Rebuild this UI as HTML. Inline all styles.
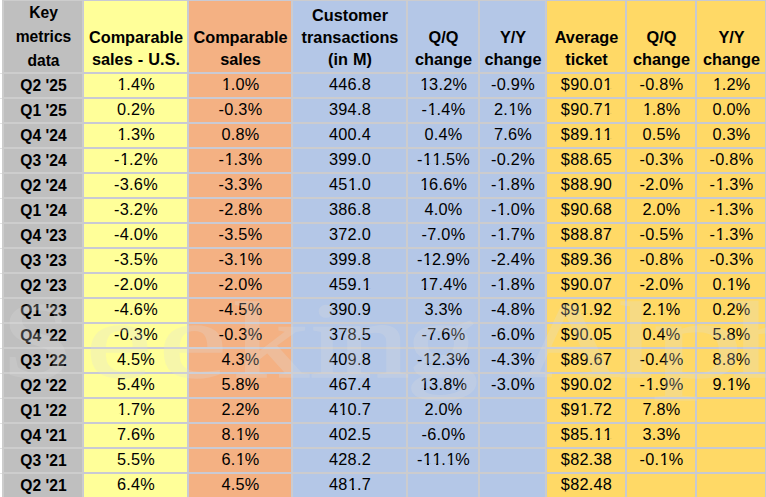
<!DOCTYPE html><html><head><meta charset="utf-8"><title>Key metrics</title><style>

html,body{margin:0;padding:0;}
body{width:766px;height:497px;overflow:hidden;position:relative;background:#CCCCCE;font-family:"Liberation Sans",sans-serif;color:#000;}
.c{position:absolute;overflow:hidden;}
.t{position:absolute;left:0;right:0;text-align:center;white-space:nowrap;height:20px;line-height:20px;}
.h .t{font-weight:bold;font-size:16.3px;word-spacing:0.6px;}
.k .t{font-weight:bold;font-size:16.5px;transform:scaleX(0.947);transform-origin:50% 50%;}
.d .t{font-size:16.3px;letter-spacing:0.25px;}
.o{display:inline-block;position:relative;left:0.5px;clip-path:polygon(0 0,100% 0,100% 14px,0.36em 14px,0.36em 100%,0.23em 100%,0.23em 14px,0 14px);}
#lw{position:absolute;left:0;top:0;width:2px;height:497px;background:#fff;}
#lw i{position:absolute;left:0;width:2px;height:1.4px;background:#E3E3E3;}
.gs{position:absolute;top:0;height:497px;}
#g0{position:absolute;left:2px;top:0;width:81px;height:497px;background:#CDCDCD;}
#wm{position:absolute;left:0;top:0;width:766px;height:497px;overflow:hidden;pointer-events:none;opacity:0.25;}
#wm span{position:absolute;font-family:"Liberation Serif",serif;color:rgb(222,222,222);-webkit-text-stroke:1.6px rgb(222,222,222);transform-origin:0 0;white-space:pre;}

</style></head><body>
<div id="g0"></div><div class="gs" style="left:83px;width:209px;background:#C9CAD4"></div><div class="gs" style="left:546px;width:220px;background:#C7C9D2"></div>
<div id="lw"><i style="top:72.6px"></i><i style="top:97.6px"></i><i style="top:122.6px"></i><i style="top:147.6px"></i><i style="top:172.6px"></i><i style="top:197.6px"></i><i style="top:222.6px"></i><i style="top:247.6px"></i><i style="top:272.6px"></i><i style="top:297.6px"></i><i style="top:322.6px"></i><i style="top:347.6px"></i><i style="top:372.6px"></i><i style="top:397.6px"></i><i style="top:422.6px"></i><i style="top:447.6px"></i><i style="top:472.6px"></i></div>
<div class="c k" style="left:4px;top:1px;width:78px;height:71px;background:#BFBFBF"><div class="t" style="top:1.03px;left:1.0px">Key</div><div class="t" style="top:24.88px;left:1.0px">metrics</div><div class="t" style="top:48.58px;left:1.0px">data</div></div>
<div class="c h" style="left:84px;top:1px;width:103px;height:71px;background:#FFFF99"><div class="t" style="top:26.05px;left:1.0px">Comparable</div><div class="t" style="top:47.65px;left:1.0px">sales - U.S.</div></div>
<div class="c h" style="left:189px;top:1px;width:102px;height:71px;background:#F4B183"><div class="t" style="top:26.05px;left:1.0px">Comparable</div><div class="t" style="top:47.65px;left:1.0px">sales</div></div>
<div class="c h" style="left:293px;top:1px;width:113px;height:71px;background:#B4C7E7"><div class="t" style="top:4.25px;left:1.0px">Customer</div><div class="t" style="top:26.05px;left:1.0px">transactions</div><div class="t" style="top:47.65px;left:1.0px">(in M)</div></div>
<div class="c h" style="left:408px;top:1px;width:70px;height:71px;background:#B4C7E7"><div class="t" style="top:26.05px;left:1.0px">Q/Q</div><div class="t" style="top:47.65px;left:1.0px">change</div></div>
<div class="c h" style="left:480px;top:1px;width:65px;height:71px;background:#B4C7E7"><div class="t" style="top:26.05px;left:1.0px">Y/Y</div><div class="t" style="top:47.65px;left:1.0px">change</div></div>
<div class="c h" style="left:547px;top:1px;width:78px;height:71px;background:#FFD966"><div class="t" style="top:26.05px;left:1.0px">Average</div><div class="t" style="top:47.65px;left:1.0px">ticket</div></div>
<div class="c h" style="left:627px;top:1px;width:68px;height:71px;background:#FFD966"><div class="t" style="top:26.05px;left:1.0px">Q/Q</div><div class="t" style="top:47.65px;left:1.0px">change</div></div>
<div class="c h" style="left:697px;top:1px;width:68px;height:71px;background:#FFD966"><div class="t" style="top:26.05px;left:1.0px">Y/Y</div><div class="t" style="top:47.65px;left:1.0px">change</div></div>
<div class="c k" style="left:4px;top:74px;width:78px;height:23px;background:#BFBFBF"><div class="t" style="top:1.18px;left:1.0px">Q2 '25</div></div>
<div class="c d" style="left:84px;top:74px;width:103px;height:23px;background:#FFFF99"><div class="t" style="top:0.25px;left:1.0px"><span class="o">1</span>.4%</div></div>
<div class="c d" style="left:189px;top:74px;width:102px;height:23px;background:#F4B183"><div class="t" style="top:0.25px;left:1.0px"><span class="o">1</span>.0%</div></div>
<div class="c d" style="left:293px;top:74px;width:113px;height:23px;background:#B4C7E7"><div class="t" style="top:0.25px;left:1.0px">446.8</div></div>
<div class="c d" style="left:408px;top:74px;width:70px;height:23px;background:#B4C7E7"><div class="t" style="top:0.25px;left:1.0px"><span class="o">1</span>3.2%</div></div>
<div class="c d" style="left:480px;top:74px;width:65px;height:23px;background:#B4C7E7"><div class="t" style="top:0.25px;left:1.0px">-0.9%</div></div>
<div class="c d" style="left:547px;top:74px;width:78px;height:23px;background:#FFD966"><div class="t" style="top:0.25px;left:1.0px">$90.0<span class="o">1</span></div></div>
<div class="c d" style="left:627px;top:74px;width:68px;height:23px;background:#FFD966"><div class="t" style="top:0.25px;left:1.0px">-0.8%</div></div>
<div class="c d" style="left:697px;top:74px;width:68px;height:23px;background:#FFD966"><div class="t" style="top:0.25px;left:1.0px"><span class="o">1</span>.2%</div></div>
<div class="c k" style="left:4px;top:99px;width:78px;height:23px;background:#BFBFBF"><div class="t" style="top:1.18px;left:1.0px">Q1 '25</div></div>
<div class="c d" style="left:84px;top:99px;width:103px;height:23px;background:#FFFF99"><div class="t" style="top:0.25px;left:1.0px">0.2%</div></div>
<div class="c d" style="left:189px;top:99px;width:102px;height:23px;background:#F4B183"><div class="t" style="top:0.25px;left:1.0px">-0.3%</div></div>
<div class="c d" style="left:293px;top:99px;width:113px;height:23px;background:#B4C7E7"><div class="t" style="top:0.25px;left:1.0px">394.8</div></div>
<div class="c d" style="left:408px;top:99px;width:70px;height:23px;background:#B4C7E7"><div class="t" style="top:0.25px;left:1.0px">-<span class="o">1</span>.4%</div></div>
<div class="c d" style="left:480px;top:99px;width:65px;height:23px;background:#B4C7E7"><div class="t" style="top:0.25px;left:1.0px">2.<span class="o">1</span>%</div></div>
<div class="c d" style="left:547px;top:99px;width:78px;height:23px;background:#FFD966"><div class="t" style="top:0.25px;left:1.0px">$90.7<span class="o">1</span></div></div>
<div class="c d" style="left:627px;top:99px;width:68px;height:23px;background:#FFD966"><div class="t" style="top:0.25px;left:1.0px"><span class="o">1</span>.8%</div></div>
<div class="c d" style="left:697px;top:99px;width:68px;height:23px;background:#FFD966"><div class="t" style="top:0.25px;left:1.0px">0.0%</div></div>
<div class="c k" style="left:4px;top:124px;width:78px;height:23px;background:#BFBFBF"><div class="t" style="top:1.18px;left:1.0px">Q4 '24</div></div>
<div class="c d" style="left:84px;top:124px;width:103px;height:23px;background:#FFFF99"><div class="t" style="top:0.25px;left:1.0px"><span class="o">1</span>.3%</div></div>
<div class="c d" style="left:189px;top:124px;width:102px;height:23px;background:#F4B183"><div class="t" style="top:0.25px;left:1.0px">0.8%</div></div>
<div class="c d" style="left:293px;top:124px;width:113px;height:23px;background:#B4C7E7"><div class="t" style="top:0.25px;left:1.0px">400.4</div></div>
<div class="c d" style="left:408px;top:124px;width:70px;height:23px;background:#B4C7E7"><div class="t" style="top:0.25px;left:1.0px">0.4%</div></div>
<div class="c d" style="left:480px;top:124px;width:65px;height:23px;background:#B4C7E7"><div class="t" style="top:0.25px;left:1.0px">7.6%</div></div>
<div class="c d" style="left:547px;top:124px;width:78px;height:23px;background:#FFD966"><div class="t" style="top:0.25px;left:1.0px">$89.<span class="o">1</span><span class="o">1</span></div></div>
<div class="c d" style="left:627px;top:124px;width:68px;height:23px;background:#FFD966"><div class="t" style="top:0.25px;left:1.0px">0.5%</div></div>
<div class="c d" style="left:697px;top:124px;width:68px;height:23px;background:#FFD966"><div class="t" style="top:0.25px;left:1.0px">0.3%</div></div>
<div class="c k" style="left:4px;top:149px;width:78px;height:23px;background:#BFBFBF"><div class="t" style="top:1.18px;left:1.0px">Q3 '24</div></div>
<div class="c d" style="left:84px;top:149px;width:103px;height:23px;background:#FFFF99"><div class="t" style="top:0.25px;left:1.0px">-<span class="o">1</span>.2%</div></div>
<div class="c d" style="left:189px;top:149px;width:102px;height:23px;background:#F4B183"><div class="t" style="top:0.25px;left:1.0px">-<span class="o">1</span>.3%</div></div>
<div class="c d" style="left:293px;top:149px;width:113px;height:23px;background:#B4C7E7"><div class="t" style="top:0.25px;left:1.0px">399.0</div></div>
<div class="c d" style="left:408px;top:149px;width:70px;height:23px;background:#B4C7E7"><div class="t" style="top:0.25px;left:1.0px">-<span class="o">1</span><span class="o">1</span>.5%</div></div>
<div class="c d" style="left:480px;top:149px;width:65px;height:23px;background:#B4C7E7"><div class="t" style="top:0.25px;left:1.0px">-0.2%</div></div>
<div class="c d" style="left:547px;top:149px;width:78px;height:23px;background:#FFD966"><div class="t" style="top:0.25px;left:1.0px">$88.65</div></div>
<div class="c d" style="left:627px;top:149px;width:68px;height:23px;background:#FFD966"><div class="t" style="top:0.25px;left:1.0px">-0.3%</div></div>
<div class="c d" style="left:697px;top:149px;width:68px;height:23px;background:#FFD966"><div class="t" style="top:0.25px;left:1.0px">-0.8%</div></div>
<div class="c k" style="left:4px;top:174px;width:78px;height:23px;background:#BFBFBF"><div class="t" style="top:1.18px;left:1.0px">Q2 '24</div></div>
<div class="c d" style="left:84px;top:174px;width:103px;height:23px;background:#FFFF99"><div class="t" style="top:0.25px;left:1.0px">-3.6%</div></div>
<div class="c d" style="left:189px;top:174px;width:102px;height:23px;background:#F4B183"><div class="t" style="top:0.25px;left:1.0px">-3.3%</div></div>
<div class="c d" style="left:293px;top:174px;width:113px;height:23px;background:#B4C7E7"><div class="t" style="top:0.25px;left:1.0px">45<span class="o">1</span>.0</div></div>
<div class="c d" style="left:408px;top:174px;width:70px;height:23px;background:#B4C7E7"><div class="t" style="top:0.25px;left:1.0px"><span class="o">1</span>6.6%</div></div>
<div class="c d" style="left:480px;top:174px;width:65px;height:23px;background:#B4C7E7"><div class="t" style="top:0.25px;left:1.0px">-<span class="o">1</span>.8%</div></div>
<div class="c d" style="left:547px;top:174px;width:78px;height:23px;background:#FFD966"><div class="t" style="top:0.25px;left:1.0px">$88.90</div></div>
<div class="c d" style="left:627px;top:174px;width:68px;height:23px;background:#FFD966"><div class="t" style="top:0.25px;left:1.0px">-2.0%</div></div>
<div class="c d" style="left:697px;top:174px;width:68px;height:23px;background:#FFD966"><div class="t" style="top:0.25px;left:1.0px">-<span class="o">1</span>.3%</div></div>
<div class="c k" style="left:4px;top:199px;width:78px;height:23px;background:#BFBFBF"><div class="t" style="top:1.18px;left:1.0px">Q1 '24</div></div>
<div class="c d" style="left:84px;top:199px;width:103px;height:23px;background:#FFFF99"><div class="t" style="top:0.25px;left:1.0px">-3.2%</div></div>
<div class="c d" style="left:189px;top:199px;width:102px;height:23px;background:#F4B183"><div class="t" style="top:0.25px;left:1.0px">-2.8%</div></div>
<div class="c d" style="left:293px;top:199px;width:113px;height:23px;background:#B4C7E7"><div class="t" style="top:0.25px;left:1.0px">386.8</div></div>
<div class="c d" style="left:408px;top:199px;width:70px;height:23px;background:#B4C7E7"><div class="t" style="top:0.25px;left:1.0px">4.0%</div></div>
<div class="c d" style="left:480px;top:199px;width:65px;height:23px;background:#B4C7E7"><div class="t" style="top:0.25px;left:1.0px">-<span class="o">1</span>.0%</div></div>
<div class="c d" style="left:547px;top:199px;width:78px;height:23px;background:#FFD966"><div class="t" style="top:0.25px;left:1.0px">$90.68</div></div>
<div class="c d" style="left:627px;top:199px;width:68px;height:23px;background:#FFD966"><div class="t" style="top:0.25px;left:1.0px">2.0%</div></div>
<div class="c d" style="left:697px;top:199px;width:68px;height:23px;background:#FFD966"><div class="t" style="top:0.25px;left:1.0px">-<span class="o">1</span>.3%</div></div>
<div class="c k" style="left:4px;top:224px;width:78px;height:23px;background:#BFBFBF"><div class="t" style="top:1.18px;left:1.0px">Q4 '23</div></div>
<div class="c d" style="left:84px;top:224px;width:103px;height:23px;background:#FFFF99"><div class="t" style="top:0.25px;left:1.0px">-4.0%</div></div>
<div class="c d" style="left:189px;top:224px;width:102px;height:23px;background:#F4B183"><div class="t" style="top:0.25px;left:1.0px">-3.5%</div></div>
<div class="c d" style="left:293px;top:224px;width:113px;height:23px;background:#B4C7E7"><div class="t" style="top:0.25px;left:1.0px">372.0</div></div>
<div class="c d" style="left:408px;top:224px;width:70px;height:23px;background:#B4C7E7"><div class="t" style="top:0.25px;left:1.0px">-7.0%</div></div>
<div class="c d" style="left:480px;top:224px;width:65px;height:23px;background:#B4C7E7"><div class="t" style="top:0.25px;left:1.0px">-<span class="o">1</span>.7%</div></div>
<div class="c d" style="left:547px;top:224px;width:78px;height:23px;background:#FFD966"><div class="t" style="top:0.25px;left:1.0px">$88.87</div></div>
<div class="c d" style="left:627px;top:224px;width:68px;height:23px;background:#FFD966"><div class="t" style="top:0.25px;left:1.0px">-0.5%</div></div>
<div class="c d" style="left:697px;top:224px;width:68px;height:23px;background:#FFD966"><div class="t" style="top:0.25px;left:1.0px">-<span class="o">1</span>.3%</div></div>
<div class="c k" style="left:4px;top:249px;width:78px;height:23px;background:#BFBFBF"><div class="t" style="top:1.18px;left:1.0px">Q3 '23</div></div>
<div class="c d" style="left:84px;top:249px;width:103px;height:23px;background:#FFFF99"><div class="t" style="top:0.25px;left:1.0px">-3.5%</div></div>
<div class="c d" style="left:189px;top:249px;width:102px;height:23px;background:#F4B183"><div class="t" style="top:0.25px;left:1.0px">-3.<span class="o">1</span>%</div></div>
<div class="c d" style="left:293px;top:249px;width:113px;height:23px;background:#B4C7E7"><div class="t" style="top:0.25px;left:1.0px">399.8</div></div>
<div class="c d" style="left:408px;top:249px;width:70px;height:23px;background:#B4C7E7"><div class="t" style="top:0.25px;left:1.0px">-<span class="o">1</span>2.9%</div></div>
<div class="c d" style="left:480px;top:249px;width:65px;height:23px;background:#B4C7E7"><div class="t" style="top:0.25px;left:1.0px">-2.4%</div></div>
<div class="c d" style="left:547px;top:249px;width:78px;height:23px;background:#FFD966"><div class="t" style="top:0.25px;left:1.0px">$89.36</div></div>
<div class="c d" style="left:627px;top:249px;width:68px;height:23px;background:#FFD966"><div class="t" style="top:0.25px;left:1.0px">-0.8%</div></div>
<div class="c d" style="left:697px;top:249px;width:68px;height:23px;background:#FFD966"><div class="t" style="top:0.25px;left:1.0px">-0.3%</div></div>
<div class="c k" style="left:4px;top:274px;width:78px;height:23px;background:#BFBFBF"><div class="t" style="top:1.18px;left:1.0px">Q2 '23</div></div>
<div class="c d" style="left:84px;top:274px;width:103px;height:23px;background:#FFFF99"><div class="t" style="top:0.25px;left:1.0px">-2.0%</div></div>
<div class="c d" style="left:189px;top:274px;width:102px;height:23px;background:#F4B183"><div class="t" style="top:0.25px;left:1.0px">-2.0%</div></div>
<div class="c d" style="left:293px;top:274px;width:113px;height:23px;background:#B4C7E7"><div class="t" style="top:0.25px;left:1.0px">459.<span class="o">1</span></div></div>
<div class="c d" style="left:408px;top:274px;width:70px;height:23px;background:#B4C7E7"><div class="t" style="top:0.25px;left:1.0px"><span class="o">1</span>7.4%</div></div>
<div class="c d" style="left:480px;top:274px;width:65px;height:23px;background:#B4C7E7"><div class="t" style="top:0.25px;left:1.0px">-<span class="o">1</span>.8%</div></div>
<div class="c d" style="left:547px;top:274px;width:78px;height:23px;background:#FFD966"><div class="t" style="top:0.25px;left:1.0px">$90.07</div></div>
<div class="c d" style="left:627px;top:274px;width:68px;height:23px;background:#FFD966"><div class="t" style="top:0.25px;left:1.0px">-2.0%</div></div>
<div class="c d" style="left:697px;top:274px;width:68px;height:23px;background:#FFD966"><div class="t" style="top:0.25px;left:1.0px">0.<span class="o">1</span>%</div></div>
<div class="c k" style="left:4px;top:299px;width:78px;height:23px;background:#BFBFBF"><div class="t" style="top:1.18px;left:1.0px">Q1 '23</div></div>
<div class="c d" style="left:84px;top:299px;width:103px;height:23px;background:#FFFF99"><div class="t" style="top:0.25px;left:1.0px">-4.6%</div></div>
<div class="c d" style="left:189px;top:299px;width:102px;height:23px;background:#F4B183"><div class="t" style="top:0.25px;left:1.0px">-4.5%</div></div>
<div class="c d" style="left:293px;top:299px;width:113px;height:23px;background:#B4C7E7"><div class="t" style="top:0.25px;left:1.0px">390.9</div></div>
<div class="c d" style="left:408px;top:299px;width:70px;height:23px;background:#B4C7E7"><div class="t" style="top:0.25px;left:1.0px">3.3%</div></div>
<div class="c d" style="left:480px;top:299px;width:65px;height:23px;background:#B4C7E7"><div class="t" style="top:0.25px;left:1.0px">-4.8%</div></div>
<div class="c d" style="left:547px;top:299px;width:78px;height:23px;background:#FFD966"><div class="t" style="top:0.25px;left:1.0px">$9<span class="o">1</span>.92</div></div>
<div class="c d" style="left:627px;top:299px;width:68px;height:23px;background:#FFD966"><div class="t" style="top:0.25px;left:1.0px">2.<span class="o">1</span>%</div></div>
<div class="c d" style="left:697px;top:299px;width:68px;height:23px;background:#FFD966"><div class="t" style="top:0.25px;left:1.0px">0.2%</div></div>
<div class="c k" style="left:4px;top:324px;width:78px;height:23px;background:#BFBFBF"><div class="t" style="top:1.18px;left:1.0px">Q4 '22</div></div>
<div class="c d" style="left:84px;top:324px;width:103px;height:23px;background:#FFFF99"><div class="t" style="top:0.25px;left:1.0px">-0.3%</div></div>
<div class="c d" style="left:189px;top:324px;width:102px;height:23px;background:#F4B183"><div class="t" style="top:0.25px;left:1.0px">-0.3%</div></div>
<div class="c d" style="left:293px;top:324px;width:113px;height:23px;background:#B4C7E7"><div class="t" style="top:0.25px;left:1.0px">378.5</div></div>
<div class="c d" style="left:408px;top:324px;width:70px;height:23px;background:#B4C7E7"><div class="t" style="top:0.25px;left:1.0px">-7.6%</div></div>
<div class="c d" style="left:480px;top:324px;width:65px;height:23px;background:#B4C7E7"><div class="t" style="top:0.25px;left:1.0px">-6.0%</div></div>
<div class="c d" style="left:547px;top:324px;width:78px;height:23px;background:#FFD966"><div class="t" style="top:0.25px;left:1.0px">$90.05</div></div>
<div class="c d" style="left:627px;top:324px;width:68px;height:23px;background:#FFD966"><div class="t" style="top:0.25px;left:1.0px">0.4%</div></div>
<div class="c d" style="left:697px;top:324px;width:68px;height:23px;background:#FFD966"><div class="t" style="top:0.25px;left:1.0px">5.8%</div></div>
<div class="c k" style="left:4px;top:349px;width:78px;height:23px;background:#BFBFBF"><div class="t" style="top:1.18px;left:1.0px">Q3 '22</div></div>
<div class="c d" style="left:84px;top:349px;width:103px;height:23px;background:#FFFF99"><div class="t" style="top:0.25px;left:1.0px">4.5%</div></div>
<div class="c d" style="left:189px;top:349px;width:102px;height:23px;background:#F4B183"><div class="t" style="top:0.25px;left:1.0px">4.3%</div></div>
<div class="c d" style="left:293px;top:349px;width:113px;height:23px;background:#B4C7E7"><div class="t" style="top:0.25px;left:1.0px">409.8</div></div>
<div class="c d" style="left:408px;top:349px;width:70px;height:23px;background:#B4C7E7"><div class="t" style="top:0.25px;left:1.0px">-<span class="o">1</span>2.3%</div></div>
<div class="c d" style="left:480px;top:349px;width:65px;height:23px;background:#B4C7E7"><div class="t" style="top:0.25px;left:1.0px">-4.3%</div></div>
<div class="c d" style="left:547px;top:349px;width:78px;height:23px;background:#FFD966"><div class="t" style="top:0.25px;left:1.0px">$89.67</div></div>
<div class="c d" style="left:627px;top:349px;width:68px;height:23px;background:#FFD966"><div class="t" style="top:0.25px;left:1.0px">-0.4%</div></div>
<div class="c d" style="left:697px;top:349px;width:68px;height:23px;background:#FFD966"><div class="t" style="top:0.25px;left:1.0px">8.8%</div></div>
<div class="c k" style="left:4px;top:374px;width:78px;height:23px;background:#BFBFBF"><div class="t" style="top:1.18px;left:1.0px">Q2 '22</div></div>
<div class="c d" style="left:84px;top:374px;width:103px;height:23px;background:#FFFF99"><div class="t" style="top:0.25px;left:1.0px">5.4%</div></div>
<div class="c d" style="left:189px;top:374px;width:102px;height:23px;background:#F4B183"><div class="t" style="top:0.25px;left:1.0px">5.8%</div></div>
<div class="c d" style="left:293px;top:374px;width:113px;height:23px;background:#B4C7E7"><div class="t" style="top:0.25px;left:1.0px">467.4</div></div>
<div class="c d" style="left:408px;top:374px;width:70px;height:23px;background:#B4C7E7"><div class="t" style="top:0.25px;left:1.0px"><span class="o">1</span>3.8%</div></div>
<div class="c d" style="left:480px;top:374px;width:65px;height:23px;background:#B4C7E7"><div class="t" style="top:0.25px;left:1.0px">-3.0%</div></div>
<div class="c d" style="left:547px;top:374px;width:78px;height:23px;background:#FFD966"><div class="t" style="top:0.25px;left:1.0px">$90.02</div></div>
<div class="c d" style="left:627px;top:374px;width:68px;height:23px;background:#FFD966"><div class="t" style="top:0.25px;left:1.0px">-<span class="o">1</span>.9%</div></div>
<div class="c d" style="left:697px;top:374px;width:68px;height:23px;background:#FFD966"><div class="t" style="top:0.25px;left:1.0px">9.<span class="o">1</span>%</div></div>
<div class="c k" style="left:4px;top:399px;width:78px;height:23px;background:#BFBFBF"><div class="t" style="top:1.18px;left:1.0px">Q1 '22</div></div>
<div class="c d" style="left:84px;top:399px;width:103px;height:23px;background:#FFFF99"><div class="t" style="top:0.25px;left:1.0px"><span class="o">1</span>.7%</div></div>
<div class="c d" style="left:189px;top:399px;width:102px;height:23px;background:#F4B183"><div class="t" style="top:0.25px;left:1.0px">2.2%</div></div>
<div class="c d" style="left:293px;top:399px;width:113px;height:23px;background:#B4C7E7"><div class="t" style="top:0.25px;left:1.0px">4<span class="o">1</span>0.7</div></div>
<div class="c d" style="left:408px;top:399px;width:70px;height:23px;background:#B4C7E7"><div class="t" style="top:0.25px;left:1.0px">2.0%</div></div>
<div class="c d" style="left:480px;top:399px;width:65px;height:23px;background:#B4C7E7"><div class="t" style="top:0.25px;left:1.0px"></div></div>
<div class="c d" style="left:547px;top:399px;width:78px;height:23px;background:#FFD966"><div class="t" style="top:0.25px;left:1.0px">$9<span class="o">1</span>.72</div></div>
<div class="c d" style="left:627px;top:399px;width:68px;height:23px;background:#FFD966"><div class="t" style="top:0.25px;left:1.0px">7.8%</div></div>
<div class="c d" style="left:697px;top:399px;width:68px;height:23px;background:#FFD966"><div class="t" style="top:0.25px;left:1.0px"></div></div>
<div class="c k" style="left:4px;top:424px;width:78px;height:23px;background:#BFBFBF"><div class="t" style="top:1.18px;left:1.0px">Q4 '21</div></div>
<div class="c d" style="left:84px;top:424px;width:103px;height:23px;background:#FFFF99"><div class="t" style="top:0.25px;left:1.0px">7.6%</div></div>
<div class="c d" style="left:189px;top:424px;width:102px;height:23px;background:#F4B183"><div class="t" style="top:0.25px;left:1.0px">8.<span class="o">1</span>%</div></div>
<div class="c d" style="left:293px;top:424px;width:113px;height:23px;background:#B4C7E7"><div class="t" style="top:0.25px;left:1.0px">402.5</div></div>
<div class="c d" style="left:408px;top:424px;width:70px;height:23px;background:#B4C7E7"><div class="t" style="top:0.25px;left:1.0px">-6.0%</div></div>
<div class="c d" style="left:480px;top:424px;width:65px;height:23px;background:#B4C7E7"><div class="t" style="top:0.25px;left:1.0px"></div></div>
<div class="c d" style="left:547px;top:424px;width:78px;height:23px;background:#FFD966"><div class="t" style="top:0.25px;left:1.0px">$85.<span class="o">1</span><span class="o">1</span></div></div>
<div class="c d" style="left:627px;top:424px;width:68px;height:23px;background:#FFD966"><div class="t" style="top:0.25px;left:1.0px">3.3%</div></div>
<div class="c d" style="left:697px;top:424px;width:68px;height:23px;background:#FFD966"><div class="t" style="top:0.25px;left:1.0px"></div></div>
<div class="c k" style="left:4px;top:449px;width:78px;height:23px;background:#BFBFBF"><div class="t" style="top:1.18px;left:1.0px">Q3 '21</div></div>
<div class="c d" style="left:84px;top:449px;width:103px;height:23px;background:#FFFF99"><div class="t" style="top:0.25px;left:1.0px">5.5%</div></div>
<div class="c d" style="left:189px;top:449px;width:102px;height:23px;background:#F4B183"><div class="t" style="top:0.25px;left:1.0px">6.<span class="o">1</span>%</div></div>
<div class="c d" style="left:293px;top:449px;width:113px;height:23px;background:#B4C7E7"><div class="t" style="top:0.25px;left:1.0px">428.2</div></div>
<div class="c d" style="left:408px;top:449px;width:70px;height:23px;background:#B4C7E7"><div class="t" style="top:0.25px;left:1.0px">-<span class="o">1</span><span class="o">1</span>.<span class="o">1</span>%</div></div>
<div class="c d" style="left:480px;top:449px;width:65px;height:23px;background:#B4C7E7"><div class="t" style="top:0.25px;left:1.0px"></div></div>
<div class="c d" style="left:547px;top:449px;width:78px;height:23px;background:#FFD966"><div class="t" style="top:0.25px;left:1.0px">$82.38</div></div>
<div class="c d" style="left:627px;top:449px;width:68px;height:23px;background:#FFD966"><div class="t" style="top:0.25px;left:1.0px">-0.<span class="o">1</span>%</div></div>
<div class="c d" style="left:697px;top:449px;width:68px;height:23px;background:#FFD966"><div class="t" style="top:0.25px;left:1.0px"></div></div>
<div class="c k" style="left:4px;top:474px;width:78px;height:23px;background:#BFBFBF"><div class="t" style="top:1.18px;left:1.0px">Q2 '21</div></div>
<div class="c d" style="left:84px;top:474px;width:103px;height:23px;background:#FFFF99"><div class="t" style="top:0.25px;left:1.0px">6.4%</div></div>
<div class="c d" style="left:189px;top:474px;width:102px;height:23px;background:#F4B183"><div class="t" style="top:0.25px;left:1.0px">4.5%</div></div>
<div class="c d" style="left:293px;top:474px;width:113px;height:23px;background:#B4C7E7"><div class="t" style="top:0.25px;left:1.0px">48<span class="o">1</span>.7</div></div>
<div class="c d" style="left:408px;top:474px;width:70px;height:23px;background:#B4C7E7"><div class="t" style="top:0.25px;left:1.0px"></div></div>
<div class="c d" style="left:480px;top:474px;width:65px;height:23px;background:#B4C7E7"><div class="t" style="top:0.25px;left:1.0px"></div></div>
<div class="c d" style="left:547px;top:474px;width:78px;height:23px;background:#FFD966"><div class="t" style="top:0.25px;left:1.0px">$82.48</div></div>
<div class="c d" style="left:627px;top:474px;width:68px;height:23px;background:#FFD966"><div class="t" style="top:0.25px;left:1.0px"></div></div>
<div class="c d" style="left:697px;top:474px;width:68px;height:23px;background:#FFD966"><div class="t" style="top:0.25px;left:1.0px"></div></div>
<div id="wm"><span style="left:2.4px;top:280.5px;font-size:108px;line-height:120px;transform:scaleX(1.178)">S</span><span style="left:85.6px;top:280.5px;font-size:108px;line-height:120px;transform:scaleX(1.365)">e</span><span style="left:159.4px;top:280.5px;font-size:108px;line-height:120px;transform:scaleX(1.413)">e</span><span style="left:232.5px;top:280.5px;font-size:108px;line-height:120px;transform:scaleX(1.398)">k</span><span style="left:309.6px;top:280.5px;font-size:108px;line-height:120px;transform:scaleX(1.119)">i</span><span style="left:337.1px;top:280.5px;font-size:108px;line-height:120px;transform:scaleX(1.340)">n</span><span style="left:406.2px;top:280.5px;font-size:108px;line-height:120px;transform:scaleX(1.337)">g</span><span style="left:519.0px;top:280.5px;font-size:108px;line-height:120px;transform:scaleX(1.312)">A</span><span style="left:618.6px;top:280.5px;font-size:108px;line-height:120px;transform:scaleX(1.119)">l</span><span style="left:653.2px;top:280.5px;font-size:108px;line-height:120px;transform:scaleX(1.671)">p</span><span style="left:732.0px;top:280.5px;font-size:108px;line-height:120px;transform:scaleX(1.474)">h</span></div>
</body></html>
